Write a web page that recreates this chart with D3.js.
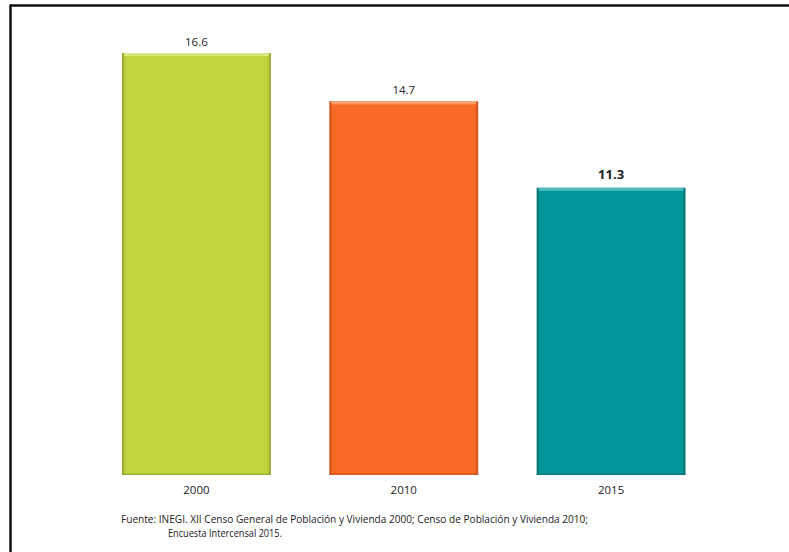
<!DOCTYPE html>
<html>
<head>
<meta charset="utf-8">
<script src="https://cdn.jsdelivr.net/npm/d3@7"></script>
<style>
  html, body { margin: 0; padding: 0; background: #fff; }
  svg { display: block; }
</style>
</head>
<body>
<svg id="chart" width="789" height="552"></svg>
<script>
const years = ["2000", "2010", "2015"];
const values = [16.6, 14.7, 11.3];
const barColors = ["#C1D43F", "#F86B24", "#03959A"];
const edgeColors = ["#8FA02A", "#C4501A", "#02706F"];
const lightColors = ["#DDE98A", "#FBA774", "#5FC1C3"];
const labelBold = [false, false, true];
const footLines = [
  "Fuente: INEGI. XII Censo General de Población y Vivienda 2000; Censo de Población y Vivienda 2010;",
  "Encuesta Intercensal 2015."
];

const svg = d3.select("#chart");
const font = "'Open Sans', 'Noto Sans', sans-serif";

// frame (top and left lines)
svg.append("line").attr("x1", 10).attr("y1", 5.5).attr("x2", 789).attr("y2", 5.5)
  .attr("stroke", "#111").attr("stroke-width", 2.5);
svg.append("line").attr("x1", 10.5).attr("y1", 4.5).attr("x2", 10.5).attr("y2", 552)
  .attr("stroke", "#111").attr("stroke-width", 2.5);

const x = d3.scaleBand().domain(years).range([122, 685.5]).paddingInner(0.282).paddingOuter(0);
const y = d3.scaleLinear().domain([0, 16.6]).range([475, 53]);

const defs = svg.append("defs");
years.forEach((yr, i) => {
  const g = defs.append("linearGradient").attr("id", "g" + i)
    .attr("x1", "0%").attr("x2", "100%").attr("y1", "0%").attr("y2", "0%");
  g.append("stop").attr("offset", "0%").attr("stop-color", edgeColors[i]);
  g.append("stop").attr("offset", "2.5%").attr("stop-color", barColors[i]);
  g.append("stop").attr("offset", "97.5%").attr("stop-color", barColors[i]);
  g.append("stop").attr("offset", "100%").attr("stop-color", edgeColors[i]);
});

const data = years.map((yr, i) => ({ yr, v: values[i], i }));

const bars = svg.append("g");
bars.selectAll("rect.bar").data(data).enter().append("rect")
  .attr("class", "bar")
  .attr("x", d => x(d.yr))
  .attr("y", d => y(d.v))
  .attr("width", x.bandwidth())
  .attr("height", d => y(0) - y(d.v))
  .attr("fill", d => `url(#g${d.i})`);

// top bevel highlight
bars.selectAll("rect.hl").data(data).enter().append("rect")
  .attr("class", "hl")
  .attr("x", d => x(d.yr) + 2)
  .attr("y", d => y(d.v))
  .attr("width", x.bandwidth() - 4)
  .attr("height", 3)
  .attr("fill", d => lightColors[d.i])
  .attr("opacity", 0.85);

// bottom darker line
bars.selectAll("rect.bt").data(data).enter().append("rect")
  .attr("class", "bt")
  .attr("x", d => x(d.yr))
  .attr("y", d => y(0) - 1.5)
  .attr("width", x.bandwidth())
  .attr("height", 1.5)
  .attr("fill", d => edgeColors[d.i])
  .attr("opacity", 0.7);

// value labels
svg.append("g").selectAll("text").data(data).enter().append("text")
  .attr("x", d => x(d.yr) + x.bandwidth() / 2)
  .attr("y", d => y(d.v) - (labelBold[d.i] ? 9 : 7))
  .attr("text-anchor", "middle")
  .attr("font-family", font)
  .attr("font-size", d => labelBold[d.i] ? "13px" : "11.5px")
  .attr("font-weight", d => labelBold[d.i] ? "bold" : "normal")
  .attr("fill", "#222")
  .text(d => d.v.toFixed(1));

// x axis labels
const xAxis = d3.axisBottom(x).tickSize(0).tickPadding(0);
const ax = svg.append("g").attr("transform", `translate(0, ${y(0) + 19})`).call(xAxis);
ax.select(".domain").remove();
ax.selectAll("text")
  .attr("font-family", font)
  .attr("font-size", "11.5px")
  .attr("fill", "#222")
  .attr("dy", "0");

// footnote
svg.append("text").attr("x", 121).attr("y", 523)
  .attr("font-family", font).attr("font-size", "11.5px").attr("fill", "#222")
  .attr("textLength", 467).attr("lengthAdjust", "spacingAndGlyphs")
  .text(footLines[0]);
svg.append("text").attr("x", 168).attr("y", 537)
  .attr("font-family", font).attr("font-size", "11.5px").attr("fill", "#222")
  .attr("textLength", 114).attr("lengthAdjust", "spacingAndGlyphs")
  .text(footLines[1]);
</script>
</body>
</html>
